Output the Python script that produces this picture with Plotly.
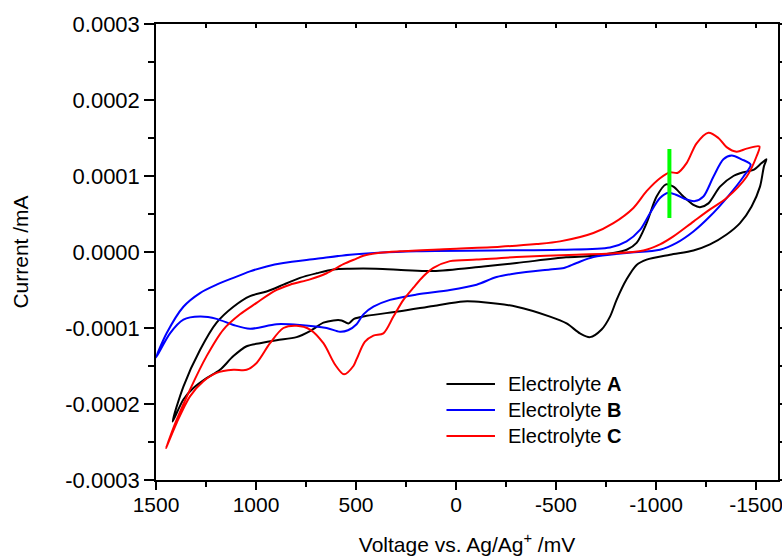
import plotly.graph_objects as go

# ---------------- data ----------------
# Electrolyte A (black) closed CV loop: voltage (mV), current (mA)
a_v = [1417, 1363, 1280, 1197, 1113, 1030, 947, 863, 780, 697, 613, 530, 400, 250, 113, -137, -303,
       -550, -687, -853, -903, -953, -1003, -1050, -1087, -1137, -1187, -1220, -1262, -1320, -1387,
       -1437, -1487, -1528, -1552,
       -1540, -1520, -1478, -1420, -1353, -1270, -1187, -1070, -953, -903, -853, -803, -770, -728,
       -670, -620, -553, -470, -303, -137, -37, 113, 280, 447, 510, 538, 572, 613, 663, 730, 797, 897,
       980, 1047, 1113, 1180, 1247, 1313, 1363, 1417]
a_i = [-2.23e-4, -1.77e-4, -1.29e-4, -0.93e-4, -0.72e-4, -0.58e-4, -0.52e-4, -0.43e-4, -0.34e-4,
       -0.28e-4, -0.23e-4, -0.22e-4, -0.22e-4, -0.24e-4, -0.25e-4, -0.19e-4, -0.145e-4,
       -0.07e-4, -0.05e-4, 0.03e-4, 0.12e-4, 0.38e-4, 0.73e-4, 0.89e-4, 0.86e-4, 0.73e-4, 0.62e-4,
       0.59e-4, 0.64e-4, 0.86e-4, 1.00e-4, 1.05e-4, 1.08e-4, 1.17e-4, 1.22e-4,
       1.13e-4, 0.86e-4, 0.60e-4, 0.38e-4, 0.23e-4, 0.10e-4, 0.02e-4, -0.035e-4, -0.10e-4, -0.17e-4,
       -0.36e-4, -0.63e-4, -0.85e-4, -1.02e-4, -1.12e-4, -1.07e-4, -0.94e-4, -0.85e-4, -0.72e-4,
       -0.66e-4, -0.65e-4, -0.71e-4, -0.78e-4, -0.84e-4, -0.88e-4, -0.94e-4, -0.90e-4, -0.90e-4,
       -0.93e-4, -1.04e-4, -1.12e-4, -1.16e-4, -1.20e-4, -1.24e-4, -1.37e-4, -1.55e-4, -1.66e-4,
       -1.79e-4, -1.94e-4, -2.23e-4]

# Electrolyte B (blue)
b_v = [1500, 1447, 1363, 1280, 1197, 1113, 1030, 947, 863, 697, 530, 197, -520, -770, -853, -920,
       -970, -1020, -1062, -1103, -1153, -1195, -1237, -1287, -1337, -1378, -1428, -1473,
       -1437, -1353, -1270, -1187, -1103, -1020, -853, -687, -603, -540, -470, -303, -203, -103, 30,
       197, 330, 413, 463, 497, 540, 580, 647, 780, 897, 1030, 1113, 1197, 1280, 1363, 1430, 1500]
b_i = [-1.39e-4, -1.07e-4, -0.72e-4, -0.54e-4, -0.43e-4, -0.34e-4, -0.255e-4, -0.19e-4, -0.145e-4,
       -0.09e-4, -0.035e-4, 0.01e-4, 0.03e-4, 0.06e-4, 0.14e-4, 0.29e-4, 0.51e-4, 0.71e-4, 0.78e-4,
       0.75e-4, 0.69e-4, 0.67e-4, 0.73e-4, 0.99e-4, 1.22e-4, 1.27e-4, 1.22e-4, 1.15e-4,
       0.99e-4, 0.71e-4, 0.47e-4, 0.27e-4, 0.12e-4, 0.03e-4, -0.013e-4, -0.066e-4, -0.145e-4,
       -0.21e-4, -0.23e-4, -0.28e-4, -0.33e-4, -0.43e-4, -0.50e-4, -0.56e-4, -0.63e-4, -0.72e-4,
       -0.82e-4, -0.95e-4, -1.03e-4, -1.05e-4, -1.00e-4, -0.96e-4, -0.95e-4, -1.01e-4, -0.96e-4,
       -0.88e-4, -0.85e-4, -0.89e-4, -1.07e-4, -1.39e-4]

# Electrolyte C (red)
c_v = [1450, 1397, 1330, 1247, 1163, 1080, 997, 913, 830, 730, 647, 563, 500, 463, 380, 280, 30,
       -220, -403, -520, -687, -787, -887, -953, -1020, -1070, -1107, -1153, -1203, -1262, -1312,
       -1353, -1403, -1453, -1517,
       -1503, -1453, -1353, -1270, -1187, -1087, -1020, -937, -770, -603, -303, -103, 30, 113, 163,
       213, 263, 313, 363, 413, 455, 497, 513, 560, 605, 663, 730, 797, 863, 930, 997, 1047, 1113,
       1197, 1263, 1330, 1397, 1450]
c_i = [-2.58e-4, -2.21e-4, -1.81e-4, -1.37e-4, -1.02e-4, -0.82e-4, -0.67e-4, -0.52e-4, -0.43e-4,
       -0.36e-4, -0.28e-4, -0.16e-4, -0.09e-4, -0.05e-4, -0.01e-4, 0.01e-4, 0.04e-4, 0.07e-4,
       0.105e-4, 0.14e-4, 0.25e-4, 0.38e-4, 0.58e-4, 0.80e-4, 0.97e-4, 1.05e-4, 1.04e-4, 1.17e-4,
       1.43e-4, 1.57e-4, 1.50e-4, 1.38e-4, 1.32e-4, 1.36e-4, 1.39e-4,
       1.26e-4, 0.99e-4, 0.71e-4, 0.56e-4, 0.40e-4, 0.205e-4, 0.10e-4, 0.02e-4, -0.02e-4, -0.035e-4,
       -0.066e-4, -0.10e-4, -0.12e-4, -0.21e-4, -0.32e-4, -0.47e-4, -0.63e-4, -0.85e-4, -1.07e-4,
       -1.10e-4, -1.18e-4, -1.41e-4, -1.50e-4, -1.61e-4, -1.48e-4, -1.20e-4, -1.02e-4, -0.97e-4,
       -1.00e-4, -1.20e-4, -1.46e-4, -1.55e-4, -1.55e-4, -1.59e-4, -1.70e-4, -1.90e-4, -2.25e-4,
       -2.58e-4]

# green marker line
g_v = [-1067, -1067]
g_i = [1.355e-4, 0.447e-4]

names = ["Electrolyte <b>A</b>", "Electrolyte <b>B</b>", "Electrolyte <b>C</b>"]
colors = ["#000000", "#0000ff", "#ff0000"]

x_ticks = [1500, 1000, 500, 0, -500, -1000, -1500]
y_ticks = [0.0003, 0.0002, 0.0001, 0.0, -0.0001, -0.0002, -0.0003]

# ---------------- figure ----------------
FONT = "Liberation Sans, Arial, sans-serif"
fig = go.Figure()
for v, i, n, c in zip([a_v, b_v, c_v], [a_i, b_i, c_i], names, colors):
    fig.add_trace(go.Scatter(x=v, y=i, mode="lines", name=n, showlegend=False,
                             line=dict(color=c, width=2, shape="spline", smoothing=0.85)))
fig.add_trace(go.Scatter(x=g_v, y=g_i, mode="lines", showlegend=False,
                         line=dict(color="#00ff00", width=4)))

xr = [1500, -1610]
yr = [-0.0003, 0.0003]

# manual legend (paper coordinates)
shapes, annos = [], []
leg_x0, leg_x1, leg_tx = 0.467, 0.545, 0.563
leg_rows = [0.2105, 0.1535, 0.0965]
for n, c, yy in zip(names, colors, leg_rows):
    shapes.append(dict(type="line", xref="paper", yref="paper", x0=leg_x0, x1=leg_x1,
                       y0=yy, y1=yy, line=dict(color=c, width=2)))
    annos.append(dict(xref="paper", yref="paper", x=leg_tx, y=yy, text=n, showarrow=False,
                      xanchor="left", yanchor="middle", font=dict(size=20, color="black")))

fig.update_layout(
    width=782, height=560,
    margin=dict(l=156, r=4, t=24, b=80),
    paper_bgcolor="white", plot_bgcolor="white",
    font=dict(family=FONT, size=21, color="black"),
    showlegend=False,
    shapes=shapes, annotations=annos,
    xaxis=dict(range=xr, tickvals=x_ticks, ticktext=[str(t) for t in x_ticks], automargin=False,
               ticks="outside", ticklen=8, tickwidth=1.5, tickcolor="black",
               ticklabeloverflow="allow", ticklabelstandoff=-3,
               showline=True, linecolor="black", linewidth=1.5, showgrid=False, zeroline=False,
               minor=dict(dtick=250, tick0=0, ticks="outside", ticklen=5, tickcolor="black",
                          tickwidth=1.5, showgrid=False),
               tickfont=dict(size=21),
               title=dict(text="Voltage vs. Ag/Ag<sup>+</sup> /mV", font=dict(size=21), standoff=22)),
    yaxis=dict(range=yr, tickvals=y_ticks, ticktext=[f"{t:.4f}" for t in y_ticks], automargin=False,
               ticks="outside", ticklen=10, tickwidth=1.5, tickcolor="black",
               ticklabeloverflow="allow",
               showline=True, linecolor="black", linewidth=1.5, showgrid=False, zeroline=False,
               minor=dict(dtick=0.00005, tick0=0, ticks="outside", ticklen=6, tickcolor="black",
                          tickwidth=1.5, showgrid=False),
               tickfont=dict(size=22),
               title=dict(text="Current /mA", font=dict(size=21), standoff=31)),
    xaxis2=dict(range=xr, overlaying="x", side="top", dtick=250, tick0=0, automargin=False,
                ticks="inside", ticklen=4, tickwidth=1.5, tickcolor="black",
                showticklabels=False, showline=True, linecolor="black", linewidth=1.5,
                showgrid=False, zeroline=False),
    yaxis2=dict(range=yr, overlaying="y", side="right", dtick=0.00005, tick0=0, automargin=False,
                ticks="outside", ticklen=4, tickwidth=1.5, tickcolor="black",
                showticklabels=False, showline=True, linecolor="black", linewidth=1.5,
                showgrid=False, zeroline=False),
)
# invisible helper trace to activate the mirror axes
fig.add_trace(go.Scatter(x=[xr[0]], y=[yr[0]], xaxis="x2", yaxis="y2", mode="markers",
                         marker=dict(opacity=0), showlegend=False, hoverinfo="skip"))

fig.write_html("out.html", config={"responsive": False, "displayModeBar": False},
               post_script="document.body.style.margin='0';document.body.style.overflow='hidden';")
